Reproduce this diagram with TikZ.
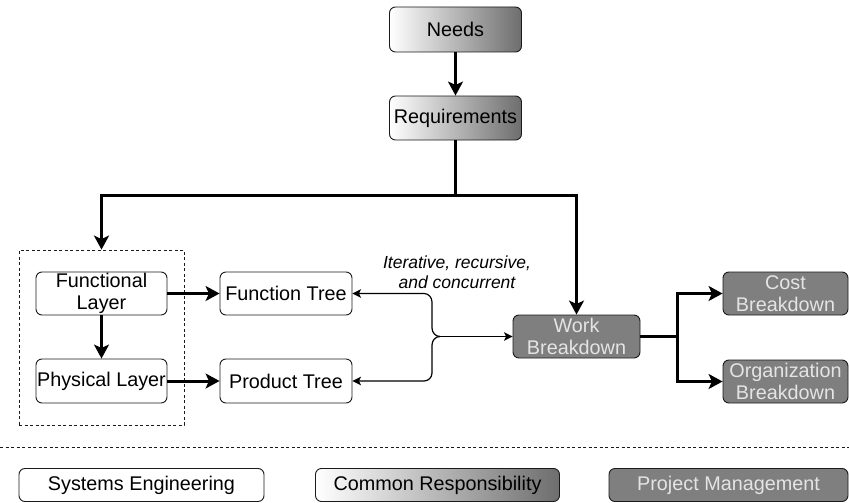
\documentclass[tikz,border=0pt]{standalone}
\usepackage{fontspec}
\setmainfont{Liberation Sans}
\usetikzlibrary{arrows.meta}
\definecolor{pmfill}{HTML}{7F7F7F}
\definecolor{pmtext}{HTML}{E4E4E4}
\definecolor{edge}{HTML}{1A1A1A}
\begin{document}
\begin{tikzpicture}[x=1pt,y=-1pt,
  box/.style={draw=edge, line width=0.9pt, rounded corners=6pt, inner sep=0pt,
    align=center, font=\fontsize{19.8}{22.5}\selectfont},
  sebox/.style={box, fill=white},
  crbox/.style={box, left color=white, right color=black!57},
  pmbox/.style={box, fill=pmfill, text=pmtext},
  flow/.style={line width=3pt, -{Stealth[length=14pt,width=15pt,inset=3.5pt]}},
  plain/.style={line width=3pt},
  thinflow/.style={line width=1.2pt, -{Stealth[length=8.5pt,width=8.5pt,inset=2pt]}},
  group/.style={draw=edge, line width=0.8pt, dash pattern=on 3pt off 2.5pt, inner sep=0pt},
  ]
\useasboundingbox (0,0) rectangle (849,503);

% shared needs and requirements
\node[crbox, minimum width=132pt, minimum height=45pt] (needs) at (455.5,29.5) {Needs};
\node[crbox, minimum width=132pt, minimum height=44pt] (req) at (455.5,118) {Requirements};

% systems engineering side
\node[group, minimum width=165pt, minimum height=175pt] (grp) at (101.5,337.5) {};
\node[sebox, minimum width=131pt, minimum height=43pt] (fl) at (101.5,293.5) {Functional\\[-1pt]Layer};
\node[sebox, minimum width=131pt, minimum height=44pt] (pl) at (101.5,381) {Physical Layer};
\node[sebox, minimum width=132pt, minimum height=43pt] (ft) at (286,293.5) {Function Tree};
\node[sebox, minimum width=132pt, minimum height=44pt] (pt) at (286,381) {Product Tree};

% project management side
\node[pmbox, minimum width=127pt, minimum height=43pt] (wb) at (576.5,336.5) {Work\\[-1pt]Breakdown};
\node[pmbox, minimum width=125pt, minimum height=43pt] (cost) at (785.5,293.5) {Cost\\[-1pt]Breakdown};
\node[pmbox, minimum width=125pt, minimum height=43pt] (org) at (785.5,381.5) {Organization\\[-1pt]Breakdown};

\node[font=\itshape\fontsize{17.5}{20.5}\selectfont, align=center] (lbl) at (457,272) {Iterative, recursive,\\and concurrent};

% connectors
\draw[flow] (needs) -- (req);
\coordinate (split) at (455.5,195);
\draw[plain] (req.south) -- (split);
\draw[flow] (split) -| (grp.north);
\draw[flow] (split) -| (wb.north);

\draw[flow] (fl) -- (ft);
\draw[flow] (pl) -- (pt);
\draw[flow] (fl) -- (pl);

\coordinate (brace) at (440,336.5);
\draw[thinflow] (brace) -- (wb.west);
\draw[thinflow] (brace) to[out=180,in=-90] (432,328) -- (432,302) to[out=90,in=0] (424,293.5) -- (ft.east);
\draw[thinflow] (brace) to[out=180,in=90] (432,345) -- (432,373) to[out=-90,in=0] (424,381) -- (pt.east);

\coordinate (fork) at (677,336.5);
\draw[plain] (wb.east) -- (fork);
\draw[flow] (fork) |- (cost.west);
\draw[flow] (fork) |- (org.west);

% separator and legend
\coordinate (sepL) at (0,447);
\coordinate (sepR) at (849,447);
\draw[edge, line width=0.8pt, dash pattern=on 3pt off 2.5pt] (sepL) -- (sepR);

\node[sebox, minimum width=245pt, minimum height=33pt] (lse) at (141.5,485) {Systems Engineering};
\node[crbox, minimum width=244pt, minimum height=33pt] (lcr) at (437.5,485) {Common Responsibility};
\node[pmbox, minimum width=239pt, minimum height=33pt] (lpm) at (728.5,485) {Project Management};
\end{tikzpicture}
\end{document}
